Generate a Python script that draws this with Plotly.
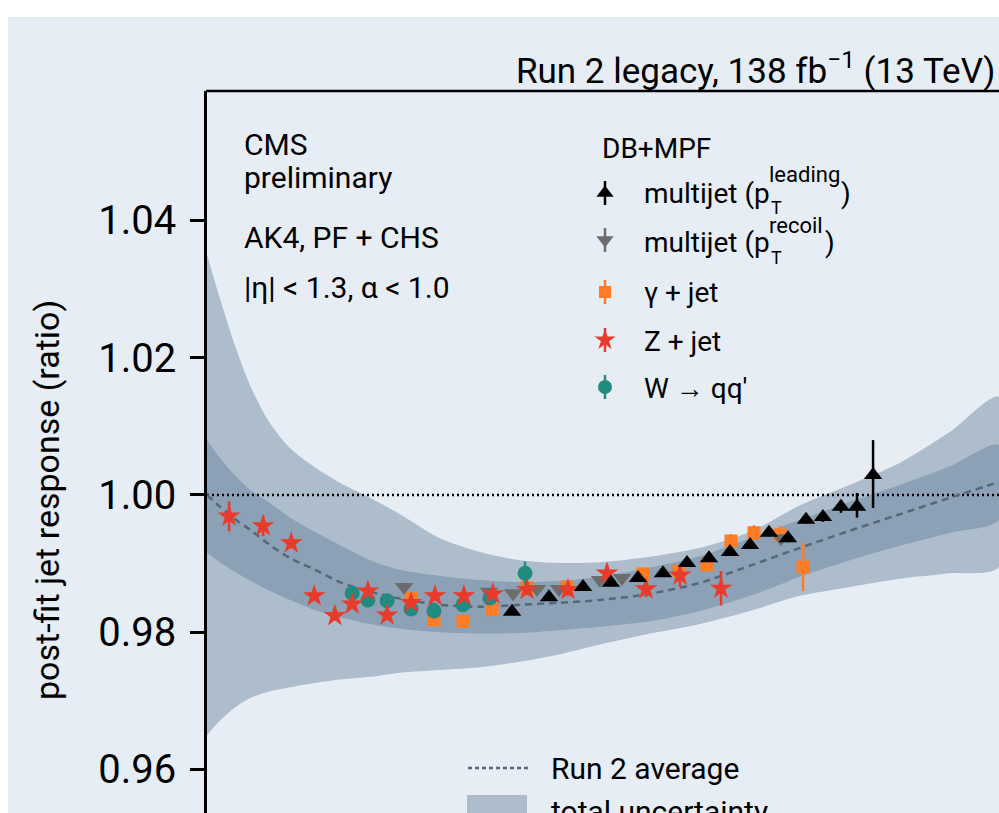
import math
import plotly.graph_objects as go

# ---------------- fit curve and uncertainty bands (jet pT in GeV) ----------------
pt_grid = [15.0, 16.4, 18.2, 20.3, 23.3, 26.8, 31.9, 37.9, 46.8, 57.7, 76.2,
           100.8, 133.2, 176.1, 232.9, 330.0, 467.7, 663.0, 940.0, 1332.0,
           1889.0, 2677.0, 3768.0]
run2_average = [1.0000, 0.9983, 0.9965, 0.9949, 0.9927, 0.9908, 0.9891, 0.9873,
                0.9859, 0.9849, 0.9840, 0.9837, 0.9840, 0.9843, 0.9847, 0.9856,
                0.9872, 0.9897, 0.9923, 0.9948, 0.9972, 0.9996, 1.0019]
total_unc_up = [1.0350, 1.0287, 1.0219, 1.0159, 1.0104, 1.0068, 1.0040, 1.0018,
                0.9996, 0.9972, 0.9937, 0.9917, 0.9905, 0.9901, 0.9902, 0.9910,
                0.9923, 0.9946, 0.9985, 1.0015, 1.0047, 1.0092, 1.0143]
total_unc_dn = [0.9650, 0.9671, 0.9690, 0.9704, 0.9714, 0.9720, 0.9726, 0.9731,
                0.9735, 0.9741, 0.9745, 0.9749, 0.9757, 0.9768, 0.9782, 0.9798,
                0.9812, 0.9831, 0.9853, 0.9866, 0.9878, 0.9886, 0.9895]
fit_unc_up = [1.0080, 1.0054, 1.0029, 1.0007, 0.9988, 0.9967, 0.9946, 0.9927,
              0.9905, 0.9891, 0.9882, 0.9876, 0.9873, 0.9875, 0.9881, 0.9894,
              0.9911, 0.9937, 0.9964, 0.9990, 1.0015, 1.0042, 1.0073]
fit_unc_dn = [0.9916, 0.9902, 0.9888, 0.9875, 0.9860, 0.9847, 0.9832, 0.9822,
              0.9812, 0.9805, 0.9800, 0.9798, 0.9799, 0.9803, 0.9808, 0.9816,
              0.9831, 0.9853, 0.9881, 0.9905, 0.9926, 0.9945, 0.9964]

# ---------------- measurements ----------------
mj_lead_pt = [126.0, 163.1, 206.8, 251.4, 303.4, 361.3, 427.2, 498.0, 576.7,
              663.2, 757.1, 864.3, 980.2, 1103.0, 1251.0, 1399.0, 1565.0]
mj_lead_r = [0.9830, 0.9851, 0.9866, 0.9872, 0.9879, 0.9886, 0.9901, 0.9908,
             0.9917, 0.9927, 0.9945, 0.9937, 0.9964, 0.9968, 0.9983, 0.9983, 1.0029]
mj_lead_eup = [0.0004, 0.0004, 0.0004, 0.0004, 0.0004, 0.0004, 0.0004, 0.0004,
               0.0005, 0.0005, 0.0005, 0.0006, 0.0006, 0.0007, 0.0009, 0.0020, 0.0051]
mj_lead_edn = [0.0004, 0.0004, 0.0004, 0.0004, 0.0004, 0.0004, 0.0004, 0.0004,
               0.0005, 0.0005, 0.0005, 0.0006, 0.0006, 0.0007, 0.0009, 0.0016, 0.0048]

mj_recoil_pt = [59.3, 107.3, 126.9, 150.0, 174.9, 232.8, 271.4, 823.0]
mj_recoil_r = [0.9866, 0.9859, 0.9857, 0.9863, 0.9863, 0.9876, 0.9879, 0.9937]
mj_recoil_e = [0.0005, 0.0004, 0.0004, 0.0004, 0.0004, 0.0004, 0.0004, 0.0006]

gamma_pt = [62.3, 73.1, 89.5, 109.6, 139.9, 185.0, 314.2, 404.1, 491.2, 580.7,
            681.9, 817.5, 960.0]
gamma_r = [0.9849, 0.9818, 0.9816, 0.9833, 0.9865, 0.9866, 0.9885, 0.9889,
           0.9898, 0.9933, 0.9945, 0.9942, 0.9895]
gamma_e = [0.0006, 0.0006, 0.0006, 0.0006, 0.0006, 0.0006, 0.0007, 0.0008,
           0.0009, 0.0010, 0.0011, 0.0013, 0.0035]

zjet_pt = [17.5, 22.2, 27.0, 31.7, 36.6, 41.3, 46.1, 52.7, 62.3, 73.6, 90.1,
           110.3, 139.9, 186.2, 244.5, 320.9, 406.9, 541.6]
zjet_r = [0.9969, 0.9955, 0.9930, 0.9853, 0.9824, 0.9841, 0.9860, 0.9825,
          0.9843, 0.9853, 0.9853, 0.9856, 0.9862, 0.9862, 0.9886, 0.9863,
          0.9883, 0.9864]
zjet_e = [0.0022, 0.0015, 0.0008, 0.0006, 0.0006, 0.0006, 0.0006, 0.0006,
          0.0007, 0.0007, 0.0007, 0.0008, 0.0008, 0.0009, 0.0011, 0.0012,
          0.0017, 0.0025]

wqq_pt = [41.3, 46.1, 52.7, 62.3, 73.1, 89.5, 108.0, 138.0]
wqq_r = [0.9857, 0.9847, 0.9846, 0.9834, 0.9831, 0.9840, 0.9850, 0.9886]
wqq_e = [0.0006, 0.0006, 0.0006, 0.0006, 0.0006, 0.0006, 0.0007, 0.0017]

y_ticks = [0.96, 0.98, 1.00, 1.02, 1.04]
unity = 1.0

# ---------------- styling ----------------
W, H = 999, 813
ML, MT = 207, 91
PW, PH = W - ML, H - MT
BG = "#e7edf5"
OUTER = "#aebdcb"
INNER = "#8ca1b5"
AVG = "#56687a"
C_LEAD, C_REC = "#000000", "#6c6c6c"
C_GAM, C_Z, C_W = "#ff7b24", "#e83b2b", "#218b80"
FONT = "Roboto"
X_MIN, X_MAX = 15.0, 3768.0
Y_MIN, Y_MAX = 0.95366, 1.05887


def fx(px):
    """figure pixel column -> paper x"""
    return (px - ML) / PW


def fy(py):
    """figure pixel row -> paper y"""
    return (H - py) / PH


fig = go.Figure()

# uncertainty bands
fig.add_trace(go.Scatter(
    x=pt_grid + pt_grid[::-1], y=total_unc_up + total_unc_dn[::-1],
    mode="lines", fill="toself", fillcolor=OUTER, line=dict(width=0, shape="spline", smoothing=0.8),
    hoverinfo="skip"))
fig.add_trace(go.Scatter(
    x=pt_grid + pt_grid[::-1], y=fit_unc_up + fit_unc_dn[::-1],
    mode="lines", fill="toself", fillcolor=INNER, line=dict(width=0, shape="spline", smoothing=0.8),
    hoverinfo="skip"))

# unity reference line
fig.add_trace(go.Scatter(
    x=[X_MIN, X_MAX], y=[unity, unity], mode="lines",
    line=dict(color="black", width=2.5, dash="2px,3px"), hoverinfo="skip"))

# Run 2 average
fig.add_trace(go.Scatter(
    x=pt_grid, y=run2_average, mode="lines",
    line=dict(color=AVG, width=2.5, dash="7px,5px", shape="spline", smoothing=0.8),
    hoverinfo="skip"))


def series(x, y, eup, edn, color, symbol, size):
    return go.Scatter(
        x=x, y=y, mode="markers",
        marker=dict(color=color, symbol=symbol, size=size, line=dict(width=0)),
        error_y=dict(type="data", symmetric=False, array=eup, arrayminus=edn,
                     color=color, thickness=2.5, width=0))


fig.add_trace(series(gamma_pt, gamma_r, gamma_e, gamma_e, C_GAM, "square", 13))
fig.add_trace(series(wqq_pt, wqq_r, wqq_e, wqq_e, C_W, "circle", 15))
fig.add_trace(series(mj_recoil_pt, mj_recoil_r, mj_recoil_e, mj_recoil_e, C_REC, "triangle-down", 16))
fig.add_trace(series(zjet_pt, zjet_r, zjet_e, zjet_e, C_Z, "star", 17))
fig.add_trace(series(mj_lead_pt, mj_lead_r, mj_lead_eup, mj_lead_edn, C_LEAD, "triangle-up", 16))

# legend symbols (drawn on an overlay axis spanning the plot area in [0, 1])
legend_rows = [193, 240, 292, 340, 387]
legend_style = [(C_LEAD, "triangle-up", 15), (C_REC, "triangle-down", 15),
                (C_GAM, "square", 12), (C_Z, "star", 16), (C_W, "circle", 14)]
for row, (col, sym, sz) in zip(legend_rows, legend_style):
    fig.add_trace(go.Scatter(
        x=[fx(605)], y=[fy(row)], xaxis="x2", yaxis="y2", mode="markers",
        marker=dict(color=col, symbol=sym, size=sz, line=dict(width=0)),
        error_y=dict(type="constant", value=12 / PH, color=col, thickness=2.5, width=0),
        hoverinfo="skip"))

annotations = []


def note(text, px, py, size, xanchor="left", **kw):
    annotations.append(dict(
        text=text, x=fx(px), y=fy(py), xref="paper", yref="paper",
        xanchor=xanchor, yanchor="middle", showarrow=False,
        font=dict(family=FONT, size=size, color="black"), **kw))


def line_at(text, px, baseline, size, xanchor="left", **kw):
    note(text, px, baseline - 0.34 * size, size, xanchor, **kw)


line_at("Run 2 legacy, 138 fb<sup>\u22121</sup> (13 TeV)", 997, 80, 35, xanchor="right")
line_at("CMS", 242, 155, 30)
line_at("preliminary", 242, 188, 30)
line_at("AK4, PF + CHS", 242, 248, 30)
line_at("|\u03b7| < 1.3, \u03b1 < 1.0", 242, 298, 30)

line_at("DB+MPF", 600, 158, 28)
line_at("multijet (p", 642, 203, 28)
line_at("T", 769, 214, 18)
line_at("leading", 767, 182, 22)
line_at(")", 839, 203, 28)
line_at("multijet (p", 642, 252, 28)
line_at("T", 769, 264, 18)
line_at("recoil", 767, 233, 22)
line_at(")", 823, 252, 28)
line_at("\u03b3 + jet", 642, 302, 28)
line_at("Z + jet", 642, 351, 28)
line_at("W \u2192 qq'", 642, 398, 28)

line_at("Run 2 average", 549, 779, 30)
line_at("total uncertainty", 549, 822, 30)

note("post-fit jet response (ratio)", 47, 500, 34, xanchor="center", textangle=-90)

shapes = [
    # white page edge around the panel
    dict(type="rect", xref="paper", yref="paper", x0=fx(0), x1=fx(W), y0=fy(17), y1=fy(-5),
         fillcolor="white", line=dict(width=0), layer="below"),
    dict(type="rect", xref="paper", yref="paper", x0=fx(-5), x1=fx(8), y0=fy(H + 5), y1=fy(-5),
         fillcolor="white", line=dict(width=0), layer="below"),
    # top frame
    dict(type="line", xref="paper", yref="paper", x0=fx(ML - 1), x1=fx(W + 5), y0=1, y1=1,
         line=dict(color="black", width=2.5)),
    # bottom legend samples
    dict(type="line", xref="paper", yref="paper", x0=fx(468), x1=fx(528), y0=fy(768), y1=fy(768),
         line=dict(color=AVG, width=2.5, dash="4px,3px")),
    dict(type="rect", xref="paper", yref="paper", x0=fx(467), x1=fx(527), y0=fy(840), y1=fy(795),
         fillcolor=OUTER, line=dict(width=0)),
]

fig.update_layout(
    width=W, height=H, margin=dict(l=ML, r=0, t=MT, b=0),
    paper_bgcolor=BG, plot_bgcolor=BG, showlegend=False,
    xaxis=dict(type="log", range=[math.log10(X_MIN), math.log10(X_MAX)], visible=False),
    yaxis=dict(range=[Y_MIN, Y_MAX], tickvals=y_ticks, tickformat=".2f",
               ticks="outside", ticklen=14, tickwidth=2.5, tickcolor="black",
               showline=True, linewidth=2.5, linecolor="black", showgrid=False,
               zeroline=False, tickfont=dict(family=FONT, size=40, color="black"),
               ticklabelstandoff=6),
    xaxis2=dict(overlaying="x", range=[0, 1], visible=False),
    yaxis2=dict(overlaying="y", range=[0, 1], visible=False),
    annotations=annotations, shapes=shapes,
)

fig.write_html("out.html")
